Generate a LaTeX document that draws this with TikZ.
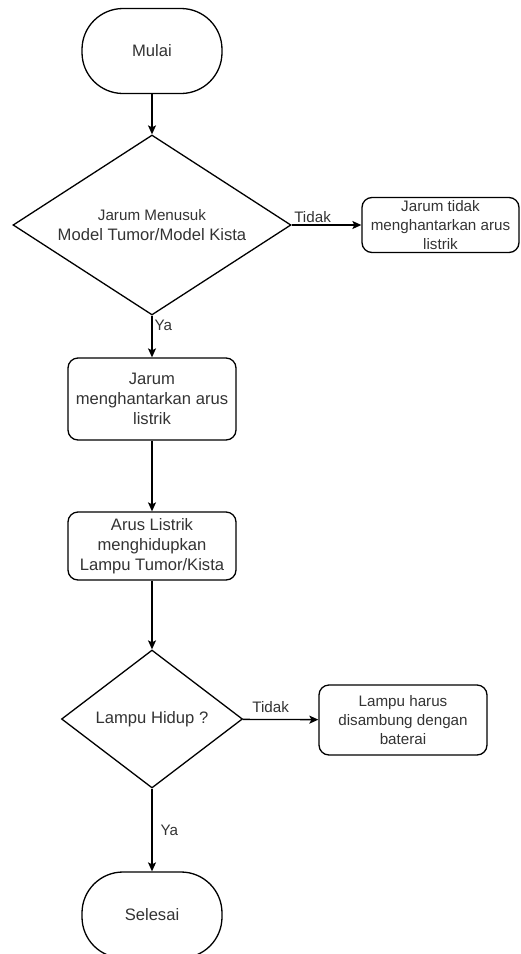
\documentclass[tikz,border=0pt]{standalone}
\usepackage{fontspec}
\setmainfont{Liberation Sans}
\usetikzlibrary{shapes.geometric,arrows.meta}
\newcommand{\besar}{\fontsize{16.6}{20}\selectfont}
\newcommand{\kecil}{\fontsize{15.2}{19}\selectfont}

\begin{document}
\begin{tikzpicture}[x=1pt,y=-1pt,line width=1.3pt,text=black!80,font=\besar,
    terminal/.style={draw, rectangle, rounded corners=41pt, minimum width=140pt, minimum height=85pt, inner sep=0pt},
    proses/.style={draw, rectangle, rounded corners=10pt, minimum width=168pt, align=center, inner sep=0pt},
    keputusan/.style={draw, diamond, align=center, inner sep=0pt},
    panah/.style={-{Stealth[length=9pt,width=8pt,inset=2pt]}},
    teks/.style={font=\kecil, inner sep=2pt}]

                \useasboundingbox (0,0) rectangle (520,954);

                \node[terminal] (nodeMulai) at (152,51) {Mulai};
                \node[keputusan, aspect=1.54, minimum width=278pt, minimum height=180pt] (nodeMenusuk) at (152,225)
                    {{\kecil Jarum Menusuk}\\ Model Tumor/Model Kista};
                \node[proses, font=\kecil, minimum width=157pt, minimum height=55pt] (nodeTidakHantar) at (440.5,225)
                    {Jarum tidak\\ menghantarkan arus\\ listrik};
                \node[proses, minimum height=82pt] (nodeHantar) at (152,399) {Jarum\\ menghantarkan arus\\ listrik};
                \node[proses, minimum height=68pt] (nodeArus) at (152,546) {Arus Listrik\\ menghidupkan\\ Lampu Tumor/Kista};
                \node[keputusan, aspect=1.31, minimum width=181pt, minimum height=138pt] (nodeLampu) at (152,719) {Lampu Hidup ?};
                \node[proses, font=\kecil, minimum height=70pt] (nodeBaterai) at (403,720)
                    {Lampu harus\\ disambung dengan\\ baterai};
                \node[terminal, minimum height=86pt] (nodeSelesai) at (152,915) {Selesai};

                \draw[panah] (nodeMulai) -- (nodeMenusuk);
                \draw[panah] (nodeMenusuk) -- node[teks, pos=0.3, above] {Tidak} (nodeTidakHantar);
                \draw[panah] (nodeMenusuk) -- node[teks, pos=0.05, anchor=north west] {Ya} (nodeHantar);
                \draw[panah] (nodeHantar) -- (nodeArus);
                \draw[panah] (nodeArus) -- (nodeLampu);
                \draw[panah] (nodeLampu) -- node[teks, pos=0.37, above=4pt] {Tidak} (nodeBaterai);
                \draw[panah] (nodeLampu) -- node[teks, right=6pt] {Ya} (nodeSelesai);

            \end{tikzpicture}
\end{document}
